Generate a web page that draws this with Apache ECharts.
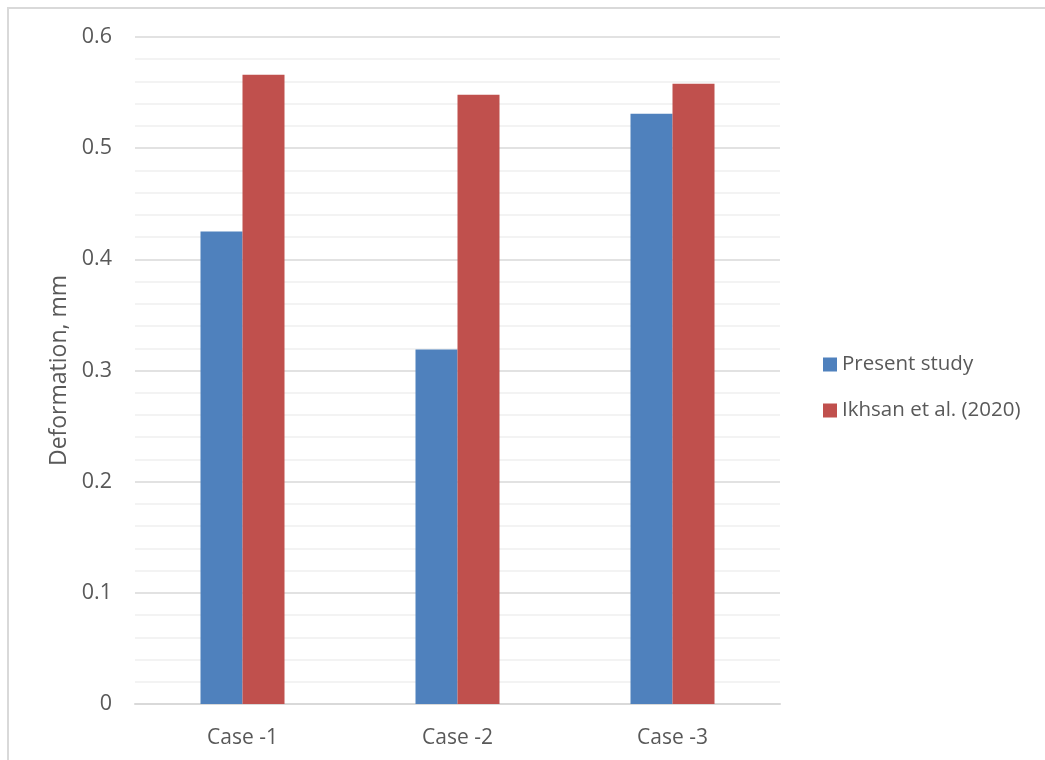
<!DOCTYPE html>
<html>
<head>
<meta charset="utf-8">
<script src="https://cdn.jsdelivr.net/npm/echarts@6/dist/echarts.min.js"></script>
<style>
  html, body { margin: 0; padding: 0; background: #fff; }
  .frame {
    position: absolute; left: 7px; top: 7px; right: 0; bottom: 0;
    border-top: 2px solid #d9d9d9; border-left: 2px solid #d9d9d9;
  }
  #chart { position: absolute; left: 0; top: 0; width: 1045px; height: 760px; }
</style>
</head>
<body>
<div class="frame"></div>
<div id="chart"></div>
<script>
  const categories = ['Case -1', 'Case -2', 'Case -3']
  const presentStudy = [0.425, 0.319, 0.531]
  const ikhsan2020 = [0.566, 0.548, 0.558]

  const textColor = '#595959'
  const font = '"Open Sans", "Liberation Sans", sans-serif'

  const chart = echarts.init(document.getElementById('chart'))
  chart.setOption({
    animation: false,
    textStyle: { fontFamily: font },
    grid: { left: 135, top: 37, width: 645, height: 667 },
    legend: {
      orient: 'vertical',
      left: 823,
      top: 354,
      padding: 0,
      itemWidth: 14,
      itemHeight: 14,
      itemGap: 25,
      icon: 'rect',
      textStyle: { fontSize: 20.5, color: textColor, fontFamily: font },
      data: ['Present study', 'Ikhsan et al. (2020)'],
    },
    xAxis: {
      type: 'category',
      data: categories,
      axisTick: { show: false },
      axisLine: { lineStyle: { color: '#d9d9d9', width: 2 } },
      axisLabel: { fontSize: 21, color: textColor, margin: 24 },
    },
    yAxis: {
      type: 'value',
      min: 0,
      max: 0.6,
      interval: 0.1,
      name: 'Deformation, mm',
      nameLocation: 'middle',
      nameGap: 63,
      nameTextStyle: { fontSize: 23, color: textColor },
      axisLine: { show: false },
      axisTick: { show: false },
      axisLabel: { fontSize: 21.5, color: textColor, margin: 23 },
      splitLine: { lineStyle: { color: '#d9d9d9', width: 1.5 } },
      minorTick: { show: false, splitNumber: 5 },
      minorSplitLine: { show: true, lineStyle: { color: '#f0f0f0', width: 1.5 } },
    },
    series: [
      {
        name: 'Present study',
        type: 'bar',
        data: presentStudy,
        barWidth: 42,
        barGap: '0%',
        itemStyle: { color: '#4f81bd' },
      },
      {
        name: 'Ikhsan et al. (2020)',
        type: 'bar',
        data: ikhsan2020,
        barWidth: 42,
        itemStyle: { color: '#c0504d' },
      },
    ],
  })
</script>
</body>
</html>
